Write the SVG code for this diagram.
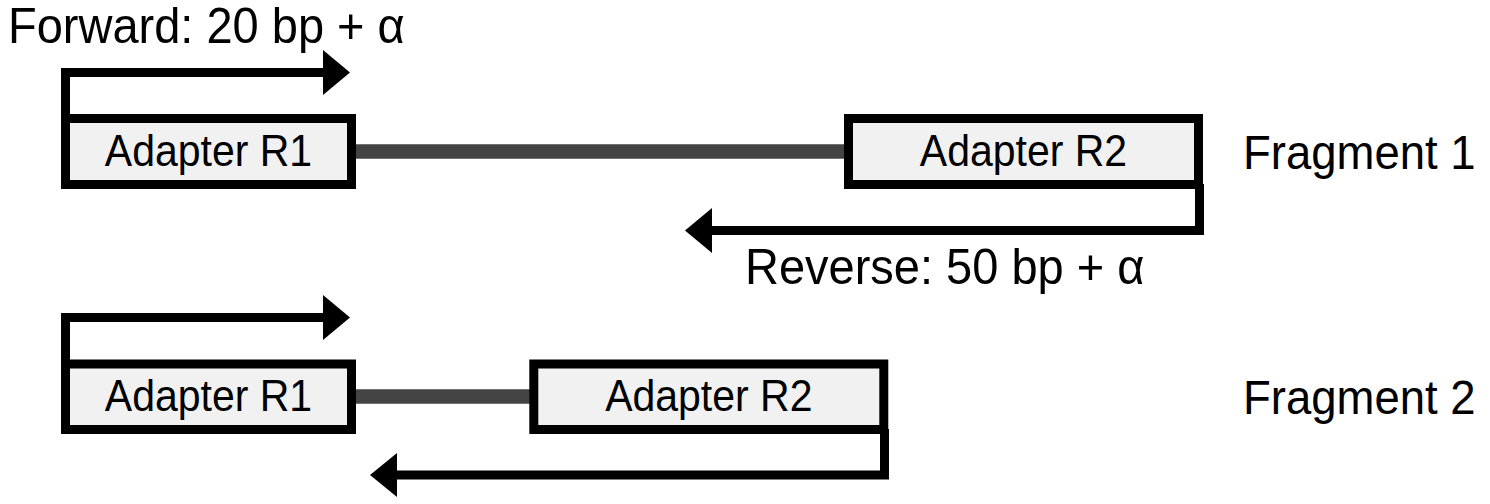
<svg xmlns="http://www.w3.org/2000/svg" width="1490" height="504" viewBox="0 0 1490 504">
<style>
.box{fill:#f1f1f1;stroke:#000;stroke-width:9}
.lbl{font-family:"Liberation Sans",Arial,sans-serif;fill:#000}
.insert{stroke:#444;stroke-width:14.5;fill:none}
.primer{stroke:#000;stroke-width:9;fill:none}
.head{fill:#000}
</style>
<rect width="1490" height="504" fill="#fff"/>
<g id="connectors">
  <line class="insert" x1="352" y1="151.5" x2="849" y2="151.5"/>
  <line class="insert" x1="352" y1="396.5" x2="534" y2="396.5"/>
  <polyline class="primer" points="65.5,118.5 65.5,72.5 324,72.5"/>
  <polygon class="head" points="323,50 350,72.5 323,95"/>
  <polyline class="primer" points="1199.5,184 1199.5,230.5 711,230.5"/>
  <polygon class="head" points="712,208 685,230.5 712,253"/>
  <polyline class="primer" points="65.5,364 65.5,317.5 324,317.5"/>
  <polygon class="head" points="323,295 350,317.5 323,340"/>
  <polyline class="primer" points="884.5,429 884.5,475 396,475"/>
  <polygon class="head" points="397,453 370,475 397,497"/>
</g>
<g id="forward-label"><text class="lbl" font-size="47" transform="translate(8,43) scale(1,1.08)">Forward: 20 bp + α</text></g>
<g id="reverse-label"><text class="lbl" font-size="47" transform="translate(745,284) scale(1,1.08)">Reverse: 50 bp + α</text></g>
<g id="f1-r1">
  <rect class="box" x="65.5" y="118.5" width="286" height="66"/>
  <text class="lbl" font-size="41" text-anchor="middle" transform="translate(208.5,166) scale(1,1.1)">Adapter R1</text>
</g>
<g id="f1-r2">
  <rect class="box" x="848.5" y="118.5" width="350" height="66"/>
  <text class="lbl" font-size="41" text-anchor="middle" transform="translate(1023.5,166) scale(1,1.1)">Adapter R2</text>
</g>
<g id="fragment1"><text class="lbl" font-size="45.5" transform="translate(1243,169) scale(1,1.07)">Fragment 1</text></g>
<g id="f2-r1">
  <rect class="box" x="65.5" y="364" width="286" height="65.5"/>
  <text class="lbl" font-size="41" text-anchor="middle" transform="translate(208.5,411) scale(1,1.1)">Adapter R1</text>
</g>
<g id="f2-r2">
  <rect class="box" x="533.8" y="364" width="350" height="65.5"/>
  <text class="lbl" font-size="41" text-anchor="middle" transform="translate(708.8,411) scale(1,1.1)">Adapter R2</text>
</g>
<g id="fragment2"><text class="lbl" font-size="45.5" transform="translate(1243,414) scale(1,1.07)">Fragment 2</text></g>
</svg>
